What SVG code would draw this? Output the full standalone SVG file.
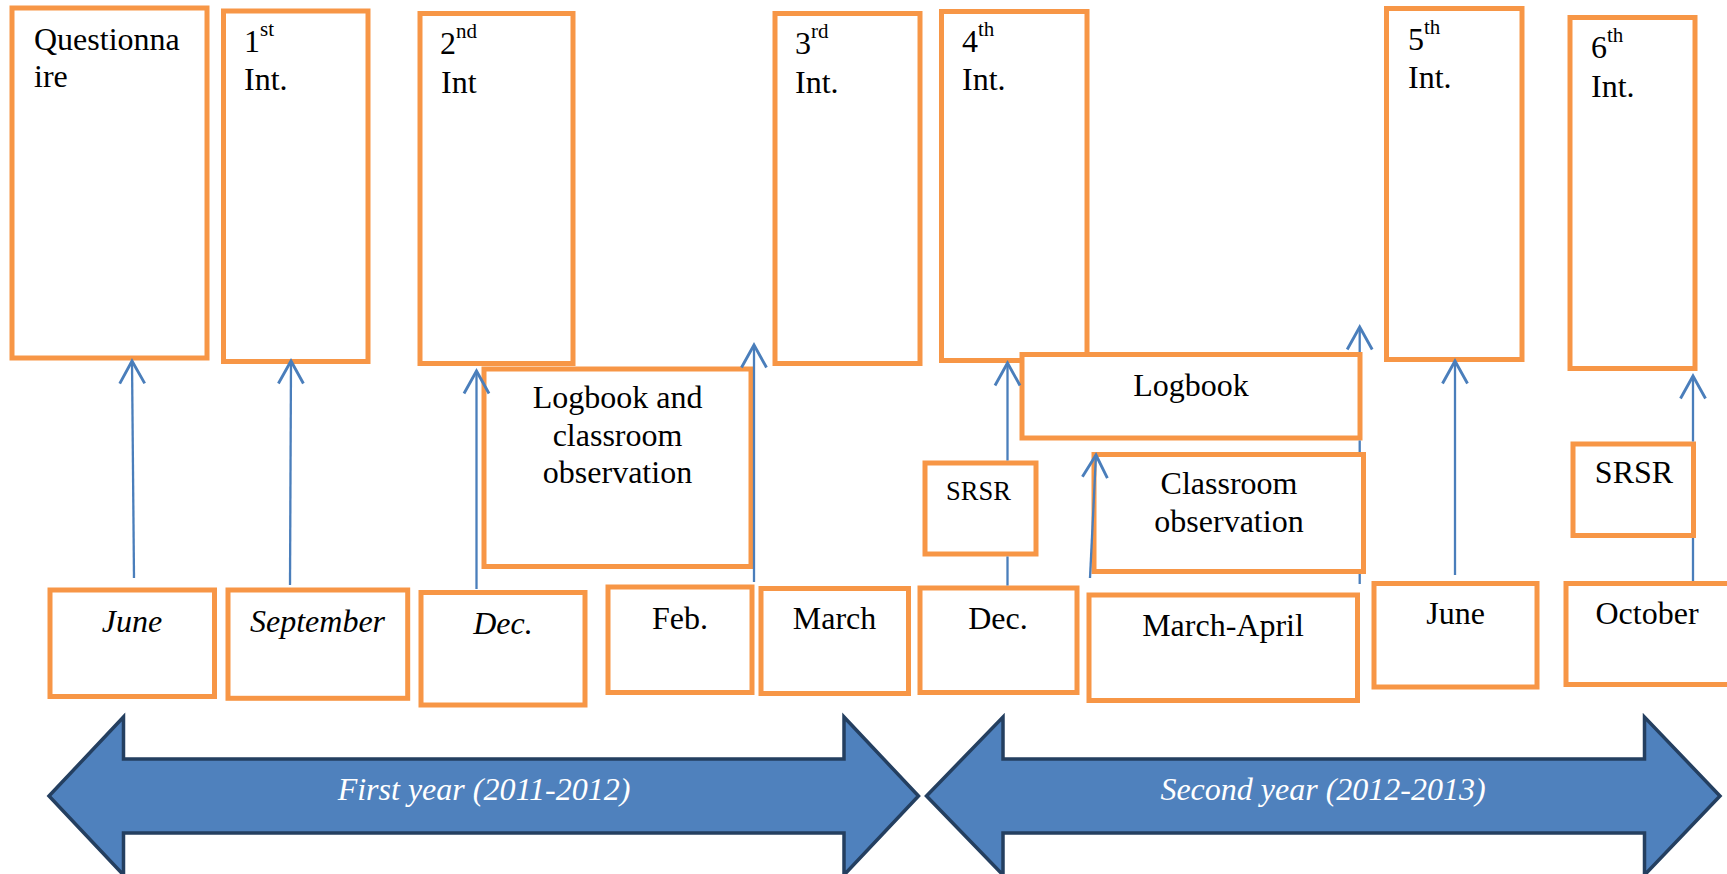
<svg xmlns="http://www.w3.org/2000/svg" width="1727" height="874" viewBox="0 0 1727 874">
<style>
.box{fill:#fff;stroke:#F79646;stroke-width:5}
.t{font-family:"Liberation Serif","Times New Roman",serif;font-size:32px;fill:#000}
.i{font-style:italic}
.c{text-anchor:middle}
.sup{font-size:21px}
.con{stroke:#4A7EBB;stroke-width:2.3;fill:none}
.arr{marker-end:url(#ah)}
.big{fill:#4F81BD;stroke:#243F60;stroke-width:3.5;stroke-linejoin:miter}
.yt{font-family:"Liberation Serif","Times New Roman",serif;font-size:32px;font-style:italic;fill:#fff;text-anchor:middle}
</style>
<defs>
<marker id="ah" markerUnits="userSpaceOnUse" markerWidth="30" markerHeight="30" refX="0" refY="0" viewBox="-20 -12 22 24" orient="auto" overflow="visible">
<path d="M-18,-10 L0,0 L-18,10" fill="none" stroke="#4A7EBB" stroke-width="2.3"/>
</marker>
</defs>

<g id="questionnaire">
<rect class="box" x="12" y="8" width="195" height="350"/>
<text class="t" x="34" y="50">Questionna</text>
<text class="t" x="34" y="87">ire</text>
</g>
<g id="int1">
<rect class="box" x="223.5" y="11" width="144.5" height="350.5"/>
<text class="t" x="244" y="52">1<tspan class="sup" dy="-16">st</tspan></text>
<text class="t" x="244" y="90">Int.</text>
</g>
<g id="int2">
<rect class="box" x="420" y="13.5" width="153" height="350"/>
<text class="t" x="440" y="54">2<tspan class="sup" dy="-16">nd</tspan></text>
<text class="t" x="441" y="93">Int</text>
</g>
<g id="int3">
<rect class="box" x="775" y="13.5" width="145" height="350"/>
<text class="t" x="795" y="54">3<tspan class="sup" dy="-16">rd</tspan></text>
<text class="t" x="795" y="93">Int.</text>
</g>
<g id="int4">
<rect class="box" x="941.5" y="11.5" width="145.5" height="349"/>
<text class="t" x="962" y="52">4<tspan class="sup" dy="-16">th</tspan></text>
<text class="t" x="962" y="90">Int.</text>
</g>
<g id="int5">
<rect class="box" x="1386.5" y="8.5" width="135.5" height="351"/>
<text class="t" x="1408" y="50">5<tspan class="sup" dy="-16">th</tspan></text>
<text class="t" x="1408" y="88">Int.</text>
</g>
<g id="int6">
<rect class="box" x="1570" y="17.5" width="125" height="351"/>
<text class="t" x="1591" y="58">6<tspan class="sup" dy="-16">th</tspan></text>
<text class="t" x="1591" y="97">Int.</text>
</g>

<g id="logbook-classroom">
<rect class="box" x="484" y="369" width="267" height="197.5"/>
<text class="t c" x="617.5" y="408">Logbook and</text>
<text class="t c" x="617.5" y="446">classroom</text>
<text class="t c" x="617.5" y="483">observation</text>
</g>
<g id="logbook">
<rect class="box" x="1022" y="354.5" width="338" height="83.5"/>
<text class="t c" x="1191" y="396">Logbook</text>
</g>
<g id="classroom">
<rect class="box" x="1094" y="454.5" width="269.5" height="117"/>
<text class="t c" x="1229" y="494">Classroom</text>
<text class="t c" x="1229" y="532">observation</text>
</g>
<g id="srsr1">
<rect class="box" x="925" y="463" width="111" height="91"/>
<text class="t c" x="978.5" y="500" style="font-size:26.5px">SRSR</text>
</g>
<g id="srsr2">
<rect class="box" x="1573" y="444" width="120.5" height="91.5"/>
<text class="t c" x="1634" y="483">SRSR</text>
</g>

<g id="june1">
<rect class="box" x="50" y="590" width="164.5" height="106.5"/>
<text class="t i c" x="132" y="632">June</text>
</g>
<g id="september">
<rect class="box" x="228" y="590" width="179.7" height="108.3"/>
<text class="t i c" x="317.5" y="632">September</text>
</g>
<g id="dec1">
<rect class="box" x="421" y="592.5" width="164" height="112.5"/>
<text class="t i c" x="503" y="634">Dec.</text>
</g>
<g id="feb">
<rect class="box" x="608" y="587" width="144" height="105.5"/>
<text class="t c" x="680" y="629">Feb.</text>
</g>
<g id="march">
<rect class="box" x="761" y="588.5" width="147.5" height="105"/>
<text class="t c" x="834.5" y="629">March</text>
</g>
<g id="dec2">
<rect class="box" x="920" y="588" width="157" height="104.5"/>
<text class="t c" x="998" y="629">Dec.</text>
</g>
<g id="march-april">
<rect class="box" x="1089" y="595" width="268.5" height="105.5"/>
<text class="t c" x="1223" y="636">March-April</text>
</g>
<g id="june2">
<rect class="box" x="1374" y="583.5" width="163" height="103.5"/>
<text class="t c" x="1455.5" y="624">June</text>
</g>
<g id="october">
<rect class="box" x="1566" y="583.5" width="175" height="101"/>
<text class="t c" x="1647" y="624">October</text>
</g>

<g id="connectors">
<line class="con arr" x1="134" y1="578" x2="132" y2="361"/>
<line class="con arr" x1="290" y1="585" x2="291" y2="361"/>
<line class="con arr" x1="476.5" y1="589" x2="476.5" y2="371"/>
<line class="con arr" x1="754" y1="582" x2="754" y2="345"/>
<line class="con" x1="1007.5" y1="585.5" x2="1007.5" y2="556.5"/>
<line class="con arr" x1="1007.5" y1="460.5" x2="1007.5" y2="363"/>
<line class="con arr" x1="1090" y1="578" x2="1096" y2="455"/>
<line class="con" x1="1359.7" y1="584" x2="1359.7" y2="574"/>
<line class="con" x1="1359.7" y1="452" x2="1359.7" y2="440.5"/>
<line class="con arr" x1="1359.7" y1="352" x2="1359.7" y2="327"/>
<line class="con arr" x1="1455" y1="575" x2="1455" y2="361"/>
<line class="con" x1="1693" y1="581" x2="1693" y2="538"/>
<line class="con arr" x1="1693" y1="441.5" x2="1693" y2="376"/>
</g>

<g id="first-year">
<polygon class="big" points="49,796 123.5,717 123.5,759 844,759 844,717 918.5,796 844,875 844,833 123.5,833 123.5,875"/>
<text class="yt" x="484" y="800">First year (2011-2012)</text>
</g>
<g id="second-year">
<polygon class="big" points="926.5,796 1003,717 1003,759 1644.5,759 1644.5,717 1720,796 1644.5,875 1644.5,833 1003,833 1003,875"/>
<text class="yt" x="1323" y="800">Second year (2012-2013)</text>
</g>
</svg>
